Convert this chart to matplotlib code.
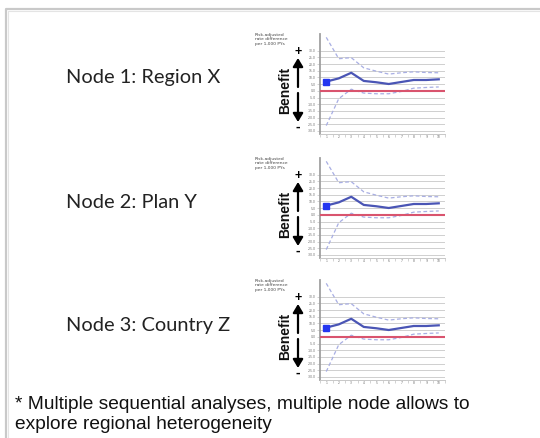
import matplotlib
matplotlib.use("Agg")
import matplotlib.pyplot as plt
import numpy as np

W, H = 540, 438
DPI = 100

node_labels = ["Node 1: Region X", "Node 2: Plan Y", "Node 3: Country Z"]
periods = [1, 2, 3, 4, 5, 6, 7, 8, 9, 10]
estimate = [6.9, 9.3, 13.5, 7.4, 6.4, 5.1, 6.6, 8.1, 8.1, 8.6]
upper_ci = [40.0, 24.0, 24.8, 17.2, 14.7, 12.5, 13.5, 14.2, 13.7, 13.5]
lower_ci = [-26.0, -5.9, 1.2, -1.7, -2.2, -2.2, -0.5, 2.0, 2.5, 2.9]
y_ticks = [30, 25, 20, 15, 10, 5, 0, -5, -10, -15, -20, -25, -30]
y_label = "Risk-adjusted\nrate difference\nper 1,000 PYs"
footer = "* Multiple sequential analyses, multiple node allows to\nexplore regional heterogeneity"

fig = plt.figure(figsize=(W / DPI, H / DPI), dpi=DPI)
fig.patch.set_facecolor("white")

# overlay axes in pixel coordinates
ov = fig.add_axes([0, 0, 1, 1])
ov.set_xlim(0, W)
ov.set_ylim(H, 0)
ov.axis("off")

# slide frame
ov.plot([6, 6, W], [H, 9, 9], color="#c9c9c9", lw=1.6)
ov.plot([8, 8, W], [H, 11, 11], color="#e4e4e4", lw=0.8)

offsets = [0, 124, 246]
label_y = [78, 203, 325]

def px_axes(x0, y_top, x1, y_bot):
    return fig.add_axes([x0 / W, 1 - y_bot / H, (x1 - x0) / W, (y_bot - y_top) / H])

for i, off in enumerate(offsets):
    ax = px_axes(320, 34 + off, 445, 134 + off)
    ax.set_xlim(0.92, 10.45)
    ax.set_ylim(-32.3, 42.5)
    for yv in y_ticks:
        ax.axhline(yv, color="#cfcfcf", lw=0.7, zorder=1)
    ax.axhline(0, color="#d9546e", lw=1.5, zorder=3)
    ax.plot(periods, upper_ci, color="#a8aee3", lw=0.9, ls=(0, (3, 2)), zorder=2)
    ax.plot(periods, lower_ci, color="#a8aee3", lw=0.9, ls=(0, (3, 2)), zorder=2)
    ax.plot(periods, estimate, color="#4a55b5", lw=1.6, zorder=4)
    ax.plot(periods[:1], estimate[:1], marker="s", color="#2436f0", ms=4.8, zorder=5,
            clip_on=False)
    for s in ["top", "right"]:
        ax.spines[s].set_visible(False)
    ax.spines["left"].set_color("#a0a0a0")
    ax.spines["left"].set_linewidth(1.3)
    ax.spines["bottom"].set_color("#c8c8c8")
    ax.spines["bottom"].set_linewidth(0.7)
    ax.set_yticks(y_ticks)
    ax.set_yticklabels([f"{v:.1f}" for v in y_ticks], fontsize=2.2, color="#666666")
    ax.set_xticks(periods)
    ax.set_xticklabels([str(p) for p in periods], fontsize=2.2, color="#666666")
    ax.set_xticks(np.arange(0.5, 11, 1.0), minor=True)
    ax.tick_params(axis="y", length=2, width=0.4, color="#b0b0b0", pad=1)
    ax.tick_params(axis="x", which="major", length=0, pad=1)
    ax.tick_params(axis="x", which="minor", length=2, width=0.4, color="#b0b0b0")
    ax.set_facecolor("none")

    # node label
    ov.text(66, label_y[i], node_labels[i], fontsize=14.4, family="Lato",
            color="#222222", va="center", ha="left")
    # risk label
    ov.text(255, 33 + off, y_label, fontsize=3.2, color="#444444", va="top",
            ha="left", linespacing=1.1)
    # benefit text and arrows
    ov.text(285, 90 + off, "Benefit", fontsize=10, fontweight="bold", rotation=90,
            va="center", ha="center", family="Liberation Sans", color="#111111")
    ov.annotate("", xy=(298, 58 + off), xytext=(298, 87 + off),
                arrowprops=dict(arrowstyle="-|>,head_length=0.5,head_width=0.3",
                                color="black", lw=1.6, shrinkA=0, shrinkB=0))
    ov.annotate("", xy=(298, 122 + off), xytext=(298, 93 + off),
                arrowprops=dict(arrowstyle="-|>,head_length=0.5,head_width=0.3",
                                color="black", lw=1.6, shrinkA=0, shrinkB=0))
    ov.text(298, 52 + off, "+", fontsize=9, fontweight="bold", va="center",
            ha="center", family="Liberation Sans")
    ov.text(298, 127 + off, "-", fontsize=10, fontweight="bold", va="center",
            ha="center", family="Liberation Sans")

ov.text(15, 396, footer, fontsize=13.8, family="Liberation Sans", color="#111111",
        va="top", ha="left", linespacing=1.2)

fig.savefig("out.png", dpi=DPI)
